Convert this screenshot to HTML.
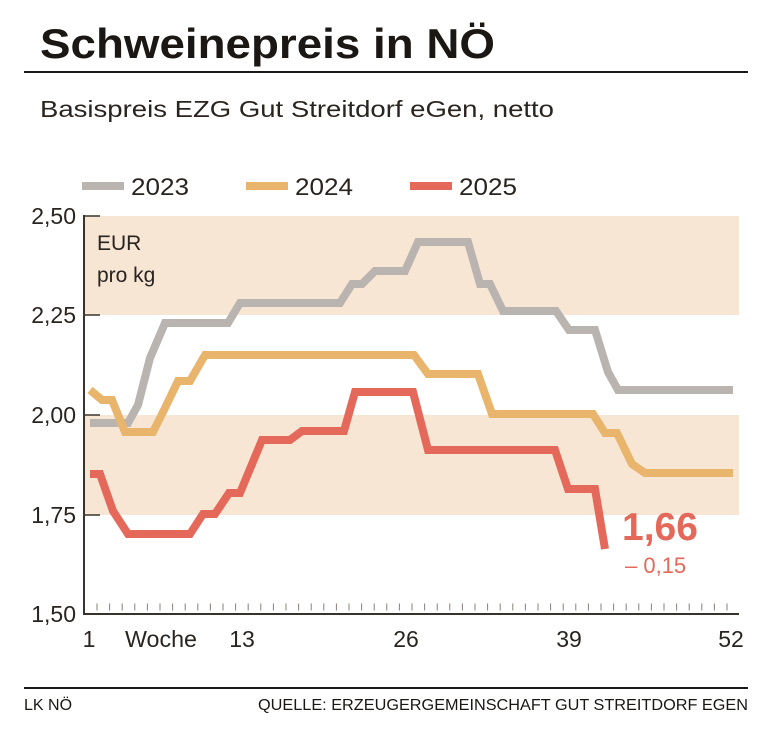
<!DOCTYPE html>
<html><head><meta charset="utf-8"><style>
html,body{margin:0;padding:0;background:#fff;}
body{width:758px;height:734px;overflow:hidden;font-family:"Liberation Sans",sans-serif;}
</style></head><body>
<svg width="758" height="734" viewBox="0 0 758 734" xmlns="http://www.w3.org/2000/svg" font-family="Liberation Sans, sans-serif">
<text x="40" y="58" font-size="42" font-weight="bold" fill="#1a1714" textLength="455" lengthAdjust="spacingAndGlyphs">Schweinepreis in NÖ</text>
<line x1="24" y1="72" x2="748" y2="72" stroke="#1a1714" stroke-width="2"/>
<text x="40" y="117" font-size="23" fill="#2a2420" textLength="514" lengthAdjust="spacingAndGlyphs">Basispreis EZG Gut Streitdorf eGen, netto</text>
<!-- legend -->
<line x1="82" y1="186" x2="124" y2="186" stroke="#bab4b0" stroke-width="8"/>
<text x="131" y="195" font-size="24" fill="#2a2420" textLength="58" lengthAdjust="spacingAndGlyphs">2023</text>
<line x1="246" y1="186" x2="288" y2="186" stroke="#e9b46c" stroke-width="8"/>
<text x="295" y="195" font-size="24" fill="#2a2420" textLength="58" lengthAdjust="spacingAndGlyphs">2024</text>
<line x1="410" y1="186" x2="452" y2="186" stroke="#e4695a" stroke-width="8"/>
<text x="459" y="195" font-size="24" fill="#2a2420" textLength="58" lengthAdjust="spacingAndGlyphs">2025</text>
<!-- bands -->
<rect x="85" y="216" width="654" height="99" fill="#f8e6d5"/>
<rect x="85" y="415" width="654" height="100" fill="#f8e6d5"/>
<!-- axes -->
<line x1="84" y1="215" x2="84" y2="615" stroke="#3a322c" stroke-width="2"/>
<line x1="83" y1="614" x2="739" y2="614" stroke="#3a322c" stroke-width="2"/>
<g stroke="#3a322c" stroke-width="1.5">
<line x1="84" y1="216" x2="100" y2="216"/>
<line x1="84" y1="315" x2="100" y2="315"/>
<line x1="84" y1="415" x2="100" y2="415"/>
<line x1="84" y1="515" x2="100" y2="515"/>
</g>
<line x1="96.5" y1="607" x2="739" y2="607" stroke="#8a807a" stroke-width="7" stroke-dasharray="1 11.6"/>
<g font-size="23" fill="#2a2420" text-anchor="end">
<text x="76" y="224">2,50</text>
<text x="76" y="323">2,25</text>
<text x="76" y="423">2,00</text>
<text x="76" y="523">1,75</text>
<text x="76" y="622">1,50</text>
</g>
<text x="97" y="250" font-size="21" fill="#2a2420">EUR</text>
<text x="97" y="282" font-size="21" fill="#2a2420">pro kg</text>
<g font-size="23" fill="#2a2420" text-anchor="middle">
<text x="89" y="647">1</text>
<text x="161" y="647" textLength="72" lengthAdjust="spacingAndGlyphs">Woche</text>
<text x="242" y="647">13</text>
<text x="406" y="647">26</text>
<text x="569" y="647">39</text>
<text x="731" y="647">52</text>
</g>
<!-- series -->
<g fill="none" stroke-width="8" stroke-linejoin="miter">
<polyline stroke="#bab4b0" points="90,423 128,423 138,405 150,358 165,323 228,323 240,303 340,303 352,284 362,284 375,271 405,271 418,242 468,242 480,284 490,284 503,311 556,311 569,330 595,330 608,372 618,390 733,390"/>
<polyline stroke="#e9b46c" points="90,390 102,400 112,400 125,432 153,432 165,408 178,381 190,381 205,355 414,355 428,374 478,374 492,414 593,414 605,433 617,433 632,464 645,473 733,473"/>
<polyline stroke="#e4695a" points="90,474 100,474 113,511 128,534 190,534 203,514 215,514 229,493 240,493 262,440 290,440 302,431 344,431 355,392 413,392 428,450 555,450 568,489 595,489 605,549"/>
</g>
<text x="622" y="540" font-size="39" font-weight="bold" fill="#e4695a">1,66</text>
<text x="625" y="573" font-size="22" fill="#e4695a">– 0,15</text>
<!-- footer -->
<line x1="24" y1="688" x2="748" y2="688" stroke="#1a1714" stroke-width="2"/>
<text x="24" y="710" font-size="16" fill="#1a1714">LK NÖ</text>
<text x="748" y="710" font-size="16" fill="#1a1714" text-anchor="end" textLength="490" lengthAdjust="spacingAndGlyphs">QUELLE: ERZEUGERGEMEINSCHAFT GUT STREITDORF EGEN</text>
</svg>
</body></html>
